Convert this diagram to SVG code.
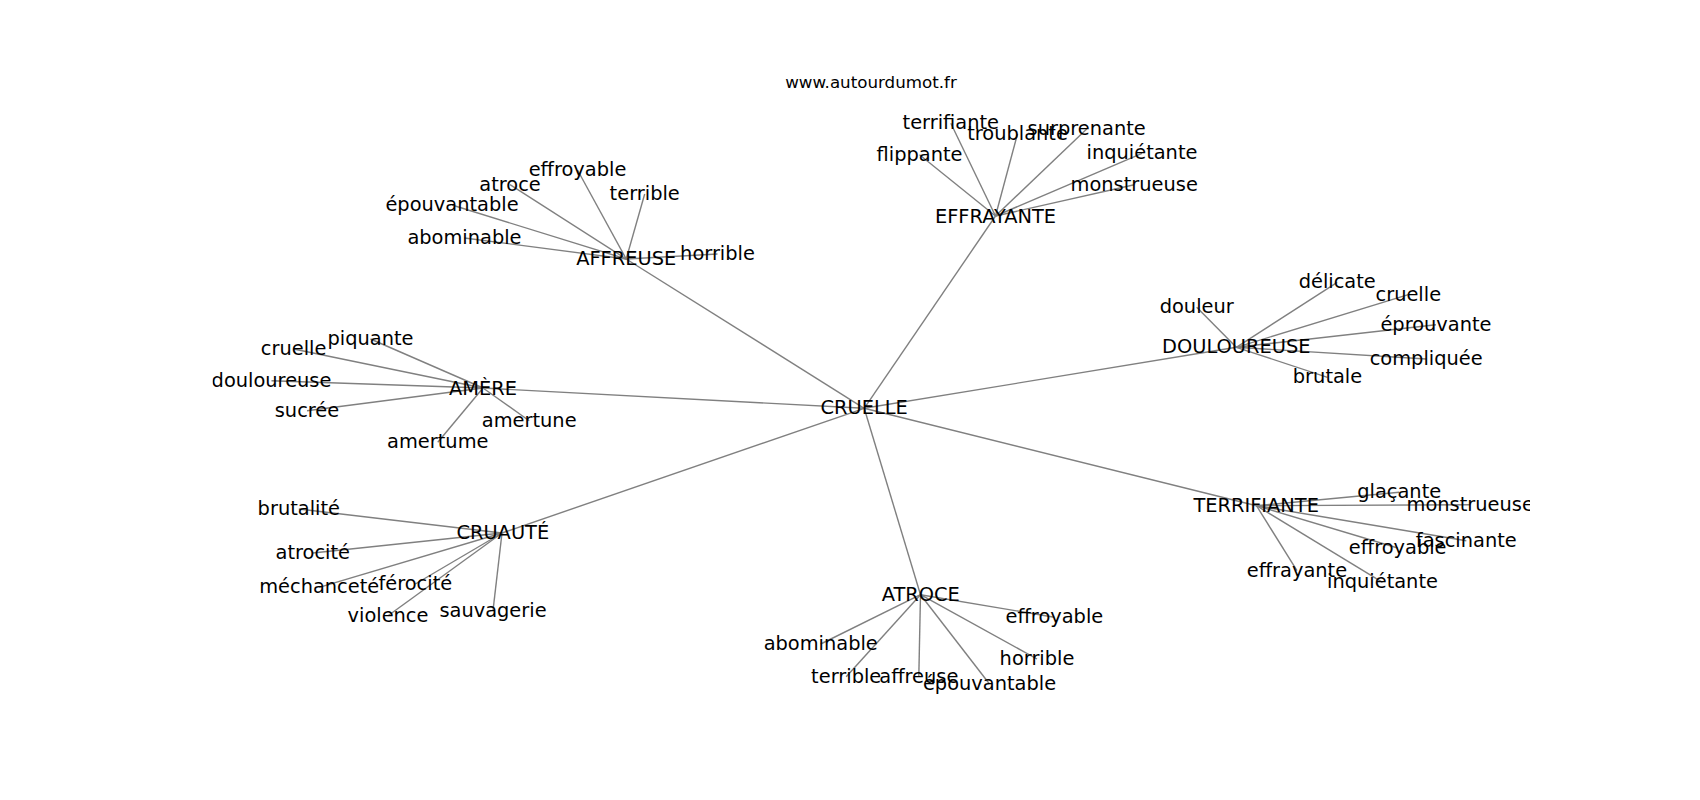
<svg xmlns="http://www.w3.org/2000/svg" width="1700" height="800" viewBox="0 0 1700 800">
<style>
.e line{stroke:#808080;stroke-width:1.4;fill:none}
text{font-family:"DejaVu Sans","Liberation Sans",sans-serif;fill:#000}
.n text{font-size:19.4px;text-anchor:middle}
.t{font-size:16.7px;text-anchor:middle}
</style>
<defs>
<clipPath id="ax"><rect x="212.5" y="96" width="1317.5" height="616"/></clipPath>
</defs>
<rect width="1700" height="800" fill="#fff"/>
<text class="t" x="871" y="88">www.autourdumot.fr</text>
<g id="edges" class="e" clip-path="url(#ax)">
<line x1="864.2" y1="408.3" x2="995.5" y2="216"/>
<line x1="864.2" y1="408.3" x2="626.2" y2="259"/>
<line x1="864.2" y1="408.3" x2="483" y2="388"/>
<line x1="864.2" y1="408.3" x2="502" y2="533"/>
<line x1="864.2" y1="408.3" x2="920.5" y2="594.7"/>
<line x1="864.2" y1="408.3" x2="1236.3" y2="347.3"/>
<line x1="864.2" y1="408.3" x2="1256.5" y2="505.7"/>
<line x1="626.2" y1="259" x2="577.5" y2="170"/>
<line x1="626.2" y1="259" x2="510" y2="184.7"/>
<line x1="626.2" y1="259" x2="644.7" y2="194"/>
<line x1="626.2" y1="259" x2="452" y2="205"/>
<line x1="626.2" y1="259" x2="464.5" y2="238"/>
<line x1="626.2" y1="259" x2="717.5" y2="254"/>
<line x1="995.5" y1="216" x2="950.8" y2="123.3"/>
<line x1="995.5" y1="216" x2="1017.5" y2="134"/>
<line x1="995.5" y1="216" x2="1086.7" y2="129"/>
<line x1="995.5" y1="216" x2="919.5" y2="154.7"/>
<line x1="995.5" y1="216" x2="1142" y2="153.3"/>
<line x1="995.5" y1="216" x2="1134.2" y2="184.7"/>
<line x1="1236.3" y1="347.3" x2="1337.2" y2="282.3"/>
<line x1="1236.3" y1="347.3" x2="1408.3" y2="294.7"/>
<line x1="1236.3" y1="347.3" x2="1196.7" y2="307.3"/>
<line x1="1236.3" y1="347.3" x2="1436" y2="324.7"/>
<line x1="1236.3" y1="347.3" x2="1426.2" y2="359"/>
<line x1="1236.3" y1="347.3" x2="1327.5" y2="377.3"/>
<line x1="1256.5" y1="505.7" x2="1399.2" y2="492.3"/>
<line x1="1256.5" y1="505.7" x2="1470.2" y2="504.7"/>
<line x1="1256.5" y1="505.7" x2="1466.3" y2="540.7"/>
<line x1="1256.5" y1="505.7" x2="1397.7" y2="548"/>
<line x1="1256.5" y1="505.7" x2="1297" y2="570.7"/>
<line x1="1256.5" y1="505.7" x2="1382.5" y2="582.3"/>
<line x1="920.5" y1="594.7" x2="1054.4" y2="617.3"/>
<line x1="920.5" y1="594.7" x2="820.7" y2="644"/>
<line x1="920.5" y1="594.7" x2="1037" y2="659"/>
<line x1="920.5" y1="594.7" x2="846.2" y2="676.7"/>
<line x1="920.5" y1="594.7" x2="918.8" y2="676.7"/>
<line x1="920.5" y1="594.7" x2="989.5" y2="684"/>
<line x1="502" y1="533" x2="298.8" y2="509"/>
<line x1="502" y1="533" x2="312.8" y2="553"/>
<line x1="502" y1="533" x2="319.2" y2="587.3"/>
<line x1="502" y1="533" x2="415.3" y2="584"/>
<line x1="502" y1="533" x2="388" y2="615.7"/>
<line x1="502" y1="533" x2="493" y2="610.7"/>
<line x1="483" y1="388" x2="370.5" y2="339"/>
<line x1="483" y1="388" x2="293.6" y2="349"/>
<line x1="483" y1="388" x2="271.5" y2="380.7"/>
<line x1="483" y1="388" x2="307" y2="410.7"/>
<line x1="483" y1="388" x2="529.2" y2="420.7"/>
<line x1="483" y1="388" x2="437.8" y2="442.3"/>
</g>
<g id="nodes" class="n" clip-path="url(#ax)">
<g id="n-cruelle"><text x="864.2" y="414.3">CRUELLE</text></g>
<g id="n-effrayante"><text x="995.5" y="222.5">EFFRAYANTE</text></g>
<g id="n-affreuse"><text x="626.2" y="265">AFFREUSE</text></g>
<g id="n-amere"><text x="483" y="394.5">AMÈRE</text></g>
<g id="n-cruaute"><text x="502.8" y="539">CRUAUTÉ</text></g>
<g id="n-atroce"><text x="920.7" y="600.7">ATROCE</text></g>
<g id="n-douloureuse"><text x="1236.3" y="353.3">DOULOUREUSE</text></g>
<g id="n-terrifiante"><text x="1256.2" y="511.7">TERRIFIANTE</text></g>
<g id="n-af-effroyable"><text x="577.5" y="176">effroyable</text></g>
<g id="n-af-atroce"><text x="510" y="190.7">atroce</text></g>
<g id="n-af-terrible"><text x="644.7" y="200">terrible</text></g>
<g id="n-af-epouvantable"><text x="452" y="211">épouvantable</text></g>
<g id="n-af-abominable"><text x="464.5" y="244">abominable</text></g>
<g id="n-af-horrible"><text x="717.5" y="260">horrible</text></g>
<g id="n-ef-terrifiante"><text x="950.8" y="129.3">terrifiante</text></g>
<g id="n-ef-troublante"><text x="1017.5" y="140">troublante</text></g>
<g id="n-ef-surprenante"><text x="1086.7" y="135">surprenante</text></g>
<g id="n-ef-flippante"><text x="919.5" y="160.7">flippante</text></g>
<g id="n-ef-inquietante"><text x="1142" y="159.3">inquiétante</text></g>
<g id="n-ef-monstrueuse"><text x="1134.2" y="190.7">monstrueuse</text></g>
<g id="n-do-delicate"><text x="1337.2" y="288.3">délicate</text></g>
<g id="n-do-cruelle"><text x="1408.3" y="300.7">cruelle</text></g>
<g id="n-do-douleur"><text x="1196.7" y="313.3">douleur</text></g>
<g id="n-do-eprouvante"><text x="1436" y="330.7">éprouvante</text></g>
<g id="n-do-compliquee"><text x="1426.2" y="365">compliquée</text></g>
<g id="n-do-brutale"><text x="1327.5" y="383.3">brutale</text></g>
<g id="n-te-glacante"><text x="1399.2" y="498.3">glaçante</text></g>
<g id="n-te-monstrueuse"><text x="1470.2" y="510.7">monstrueuse</text></g>
<g id="n-te-fascinante"><text x="1466.3" y="546.7">fascinante</text></g>
<g id="n-te-effroyable"><text x="1397.7" y="554">effroyable</text></g>
<g id="n-te-effrayante"><text x="1297" y="576.7">effrayante</text></g>
<g id="n-te-inquietante"><text x="1382.5" y="588.3">inquiétante</text></g>
<g id="n-at-effroyable"><text x="1054.4" y="623.3">effroyable</text></g>
<g id="n-at-abominable"><text x="820.7" y="650">abominable</text></g>
<g id="n-at-horrible"><text x="1037" y="665">horrible</text></g>
<g id="n-at-terrible"><text x="846.2" y="682.7">terrible</text></g>
<g id="n-at-affreuse"><text x="918.8" y="682.7">affreuse</text></g>
<g id="n-at-epouvantable"><text x="989.5" y="690">épouvantable</text></g>
<g id="n-cr-brutalite"><text x="298.8" y="515">brutalité</text></g>
<g id="n-cr-atrocite"><text x="312.8" y="559">atrocité</text></g>
<g id="n-cr-mechancete"><text x="319.2" y="593.3">méchanceté</text></g>
<g id="n-cr-ferocite"><text x="415.3" y="590">férocité</text></g>
<g id="n-cr-violence"><text x="388" y="621.7">violence</text></g>
<g id="n-cr-sauvagerie"><text x="493" y="616.7">sauvagerie</text></g>
<g id="n-am-piquante"><text x="370.5" y="345">piquante</text></g>
<g id="n-am-cruelle"><text x="293.6" y="355">cruelle</text></g>
<g id="n-am-douloureuse"><text x="271.5" y="386.7">douloureuse</text></g>
<g id="n-am-sucree"><text x="307" y="416.7">sucrée</text></g>
<g id="n-am-amertune"><text x="529.2" y="426.7">amertune</text></g>
<g id="n-am-amertume"><text x="437.8" y="448.3">amertume</text></g>
</g>
</svg>
